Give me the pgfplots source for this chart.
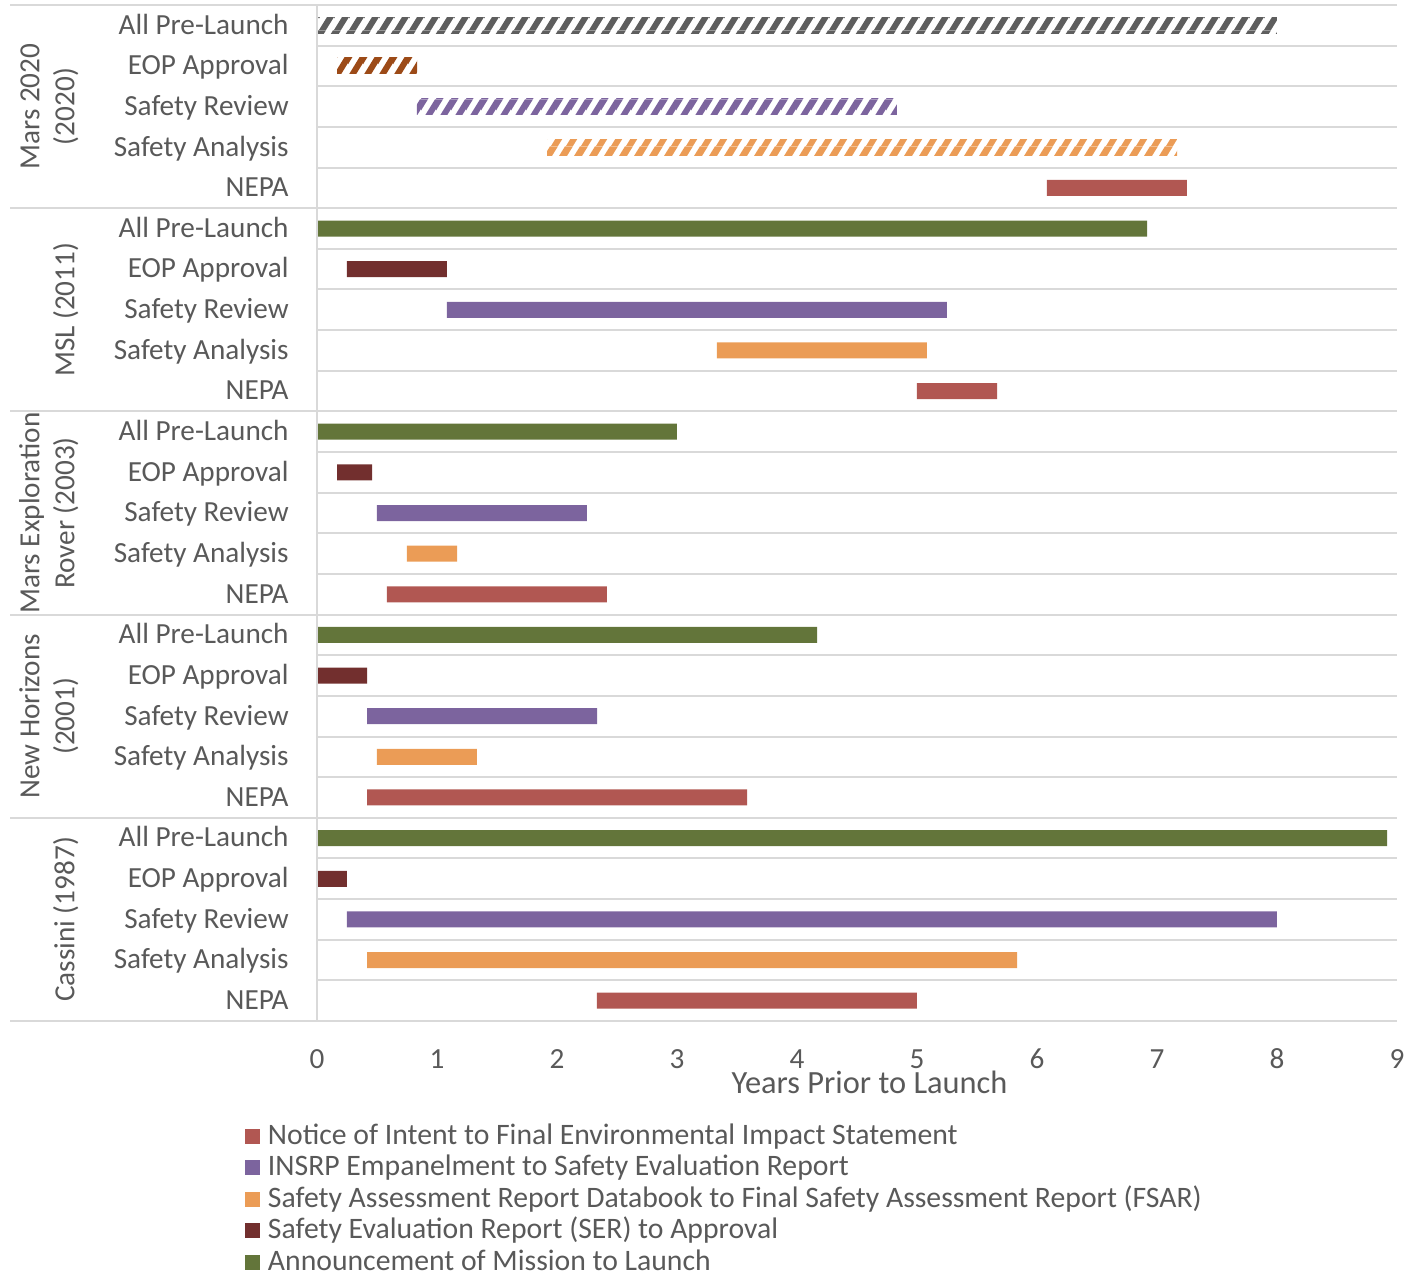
\documentclass[border=0pt]{standalone}
\usepackage{fontspec}
\setmainfont{Carlito}
\usepackage{pgfplots}
\pgfplotsset{compat=1.18}
\usepackage{pgfplotstable}
\usetikzlibrary{patterns}

\definecolor{cgreen}{HTML}{63753A}
\definecolor{cdred}{HTML}{722F2E}
\definecolor{cpurple}{HTML}{7C649E}
\definecolor{corange}{HTML}{EB9C56}
\definecolor{cred}{HTML}{B15752}
\definecolor{cgray}{HTML}{5E5E5E}
\definecolor{cbrown}{HTML}{9C4A17}
\definecolor{gridc}{HTML}{D9D9D9}
\definecolor{txt}{HTML}{595959}

\pgfdeclarepatternformonly{slash}{\pgfqpoint{0pt}{0pt}}{\pgfqpoint{7.25pt}{11.6pt}}{\pgfqpoint{7.25pt}{11.6pt}}{%
  \pgfpathmoveto{\pgfqpoint{0pt}{0pt}}%
  \pgfpathlineto{\pgfqpoint{3.6pt}{0pt}}%
  \pgfpathlineto{\pgfqpoint{10.85pt}{11.6pt}}%
  \pgfpathlineto{\pgfqpoint{7.25pt}{11.6pt}}%
  \pgfpathclose
  \pgfpathmoveto{\pgfqpoint{-7.25pt}{0pt}}%
  \pgfpathlineto{\pgfqpoint{-3.65pt}{0pt}}%
  \pgfpathlineto{\pgfqpoint{3.6pt}{11.6pt}}%
  \pgfpathlineto{\pgfqpoint{0pt}{11.6pt}}%
  \pgfpathclose
  \pgfusepath{fill}}

% y: row position (top row = 24.5); start: invisible offset; other columns: bar lengths (years)
\pgfplotstableread{
y    start  nepa   sr     sa     eop    all    hall  heop   hsr   hsa
24.5 0      0      0      0      0      0      8.0   0      0     0
23.5 0.1667 0      0      0      0      0      0     0.6667 0     0
22.5 0.8333 0      0      0      0      0      0     0      4.0   0
21.5 1.9167 0      0      0      0      0      0     0      0     5.25
20.5 6.0833 1.1667 0      0      0      0      0     0      0     0
19.5 0      0      0      0      0      6.9167 0     0      0     0
18.5 0.25   0      0      0      0.8333 0      0     0      0     0
17.5 1.0833 0      4.1667 0      0      0      0     0      0     0
16.5 3.3333 0      0      1.75   0      0      0     0      0     0
15.5 5.0    0.6667 0      0      0      0      0     0      0     0
14.5 0      0      0      0      0      3.0    0     0      0     0
13.5 0.1667 0      0      0      0.2917 0      0     0      0     0
12.5 0.5    0      1.75   0      0      0      0     0      0     0
11.5 0.75   0      0      0.4167 0      0      0     0      0     0
10.5 0.5833 1.8333 0      0      0      0      0     0      0     0
9.5  0      0      0      0      0      4.1667 0     0      0     0
8.5  0      0      0      0      0.4167 0      0     0      0     0
7.5  0.4167 0      1.9167 0      0      0      0     0      0     0
6.5  0.5    0      0      0.8333 0      0      0     0      0     0
5.5  0.4167 3.1667 0      0      0      0      0     0      0     0
4.5  0      0      0      0      0      8.9167 0     0      0     0
3.5  0      0      0      0      0.25   0      0     0      0     0
2.5  0.25   0      7.75   0      0      0      0     0      0     0
1.5  0.4167 0      0      5.4167 0      0      0     0      0     0
0.5  2.3333 2.6667 0      0      0      0      0     0      0     0
}\bardata

\pgfplotsset{sq/.style={legend image code/.code={\fill[##1] (0pt,-3pt) rectangle (7.5pt,4.5pt); \path (11.5pt,0pt);}}}
\tikzset{grp/.style={rotate=90, anchor=south, align=center, inner sep=0pt,
    font=\fontsize{14.6}{17.5}\selectfont, text=txt}}

\begin{document}
\begin{tikzpicture}
\begin{axis}[
  name=ax,
  scale only axis, width=540pt, height=508pt,
  xmin=0, xmax=9, ymin=0, ymax=25,
  enlargelimits=false,
  xbar stacked, bar width=8pt,
  axis line style={draw=none},
  major tick length=0pt, tick style={draw=none},
  xtick={0,1,2,3,4,5,6,7,8,9}, xticklabels={0,1,2,3,4,5,6,7,8,9},
  ytick={0.5,1.5,2.5,3.5,4.5,5.5,6.5,7.5,8.5,9.5,10.5,11.5,12.5,13.5,14.5,15.5,16.5,17.5,18.5,19.5,20.5,21.5,22.5,23.5,24.5},
  yticklabels={NEPA,Safety Analysis,Safety Review,EOP Approval,All Pre-Launch,
               NEPA,Safety Analysis,Safety Review,EOP Approval,All Pre-Launch,
               NEPA,Safety Analysis,Safety Review,EOP Approval,All Pre-Launch,
               NEPA,Safety Analysis,Safety Review,EOP Approval,All Pre-Launch,
               NEPA,Safety Analysis,Safety Review,EOP Approval,All Pre-Launch},
  tick label style={font=\fontsize{14.6}{17}\selectfont, text=txt, inner sep=0pt},
  xticklabel style={anchor=base, yshift=-23.5pt},
  yticklabel style={anchor=base east, xshift=-14pt, yshift=-4.4pt},
  xlabel={Years Prior to Launch},
  xlabel style={at={(axis description cs:0.5116,0)}, anchor=base, yshift=-36pt,
                inner sep=0pt, font=\fontsize{16.2}{19}\selectfont, text=txt},
  clip=false,
  legend style={at={(axis description cs:0,0)}, anchor=north west, xshift=-36pt, yshift=-50.5pt,
                draw=none, fill=none, inner sep=0pt, outer sep=0pt, row sep=0pt,
                font=\fontsize{14.85}{17}\selectfont, text=txt,
                nodes={inner sep=0pt, text height=11pt, text depth=4.75pt}},
  legend cell align=left,
]
% grid lines
\draw[gridc, line width=1pt] (axis cs:0,0) -- (axis cs:9,0)
  (axis cs:0,1) -- (axis cs:9,1)   (axis cs:0,2) -- (axis cs:9,2)   (axis cs:0,3) -- (axis cs:9,3)
  (axis cs:0,4) -- (axis cs:9,4)   (axis cs:0,6) -- (axis cs:9,6)   (axis cs:0,7) -- (axis cs:9,7)
  (axis cs:0,8) -- (axis cs:9,8)   (axis cs:0,9) -- (axis cs:9,9)   (axis cs:0,11) -- (axis cs:9,11)
  (axis cs:0,12) -- (axis cs:9,12) (axis cs:0,13) -- (axis cs:9,13) (axis cs:0,14) -- (axis cs:9,14)
  (axis cs:0,16) -- (axis cs:9,16) (axis cs:0,17) -- (axis cs:9,17) (axis cs:0,18) -- (axis cs:9,18)
  (axis cs:0,19) -- (axis cs:9,19) (axis cs:0,21) -- (axis cs:9,21) (axis cs:0,22) -- (axis cs:9,22)
  (axis cs:0,23) -- (axis cs:9,23) (axis cs:0,24) -- (axis cs:9,24);
\draw[gridc, line width=1pt]
  (axis cs:-2.558,0) -- (axis cs:9,0)   (axis cs:-2.558,5) -- (axis cs:9,5)
  (axis cs:-2.558,10) -- (axis cs:9,10) (axis cs:-2.558,15) -- (axis cs:9,15)
  (axis cs:-2.558,20) -- (axis cs:9,20) (axis cs:-2.558,25) -- (axis cs:9,25);
\draw[gridc, line width=1pt] (axis cs:0,0) -- (axis cs:0,25);

% group labels
\node[grp] at (axis cs:-1.985,22.5) {Mars 2020\\(2020)};
\node[grp] at (axis cs:-1.985,17.5) {MSL (2011)};
\node[grp] at (axis cs:-1.985,12.5) {Mars Exploration\\Rover (2003)};
\node[grp] at (axis cs:-1.985,7.5) {New Horizons\\(2001)};
\node[grp] at (axis cs:-1.985,2.5) {Cassini (1987)};

\addplot[draw=none, fill=none, forget plot] table[x=start, y=y]{\bardata};
\addplot[draw=none, fill=cred, sq] table[x=nepa, y=y]{\bardata};
\addlegendentry{Notice of Intent to Final Environmental Impact Statement}
\addplot[draw=none, fill=cpurple, sq] table[x=sr, y=y]{\bardata};
\addlegendentry{INSRP Empanelment to Safety Evaluation Report}
\addplot[draw=none, fill=corange, sq] table[x=sa, y=y]{\bardata};
\addlegendentry{Safety Assessment Report Databook to Final Safety Assessment Report (FSAR)}
\addplot[draw=none, fill=cdred, sq] table[x=eop, y=y]{\bardata};
\addlegendentry{Safety Evaluation Report (SER) to Approval}
\addplot[draw=none, fill=cgreen, sq] table[x=all, y=y]{\bardata};
\addlegendentry{Announcement of Mission to Launch}
\addplot[draw=none, forget plot, pattern=slash, pattern color=cgray] table[x=hall, y=y]{\bardata};
\addplot[draw=none, forget plot, pattern=slash, pattern color=cbrown] table[x=heop, y=y]{\bardata};
\addplot[draw=none, forget plot, pattern=slash, pattern color=cpurple] table[x=hsr, y=y]{\bardata};
\addplot[draw=none, forget plot, pattern=slash, pattern color=corange] table[x=hsa, y=y]{\bardata};
\end{axis}
\pgfresetboundingbox
\path[use as bounding box] ([shift={(-158.5pt,-130.5pt)}]ax.south west) rectangle ([shift={(555.5pt,510.5pt)}]ax.south west);
\end{tikzpicture}
\end{document}
